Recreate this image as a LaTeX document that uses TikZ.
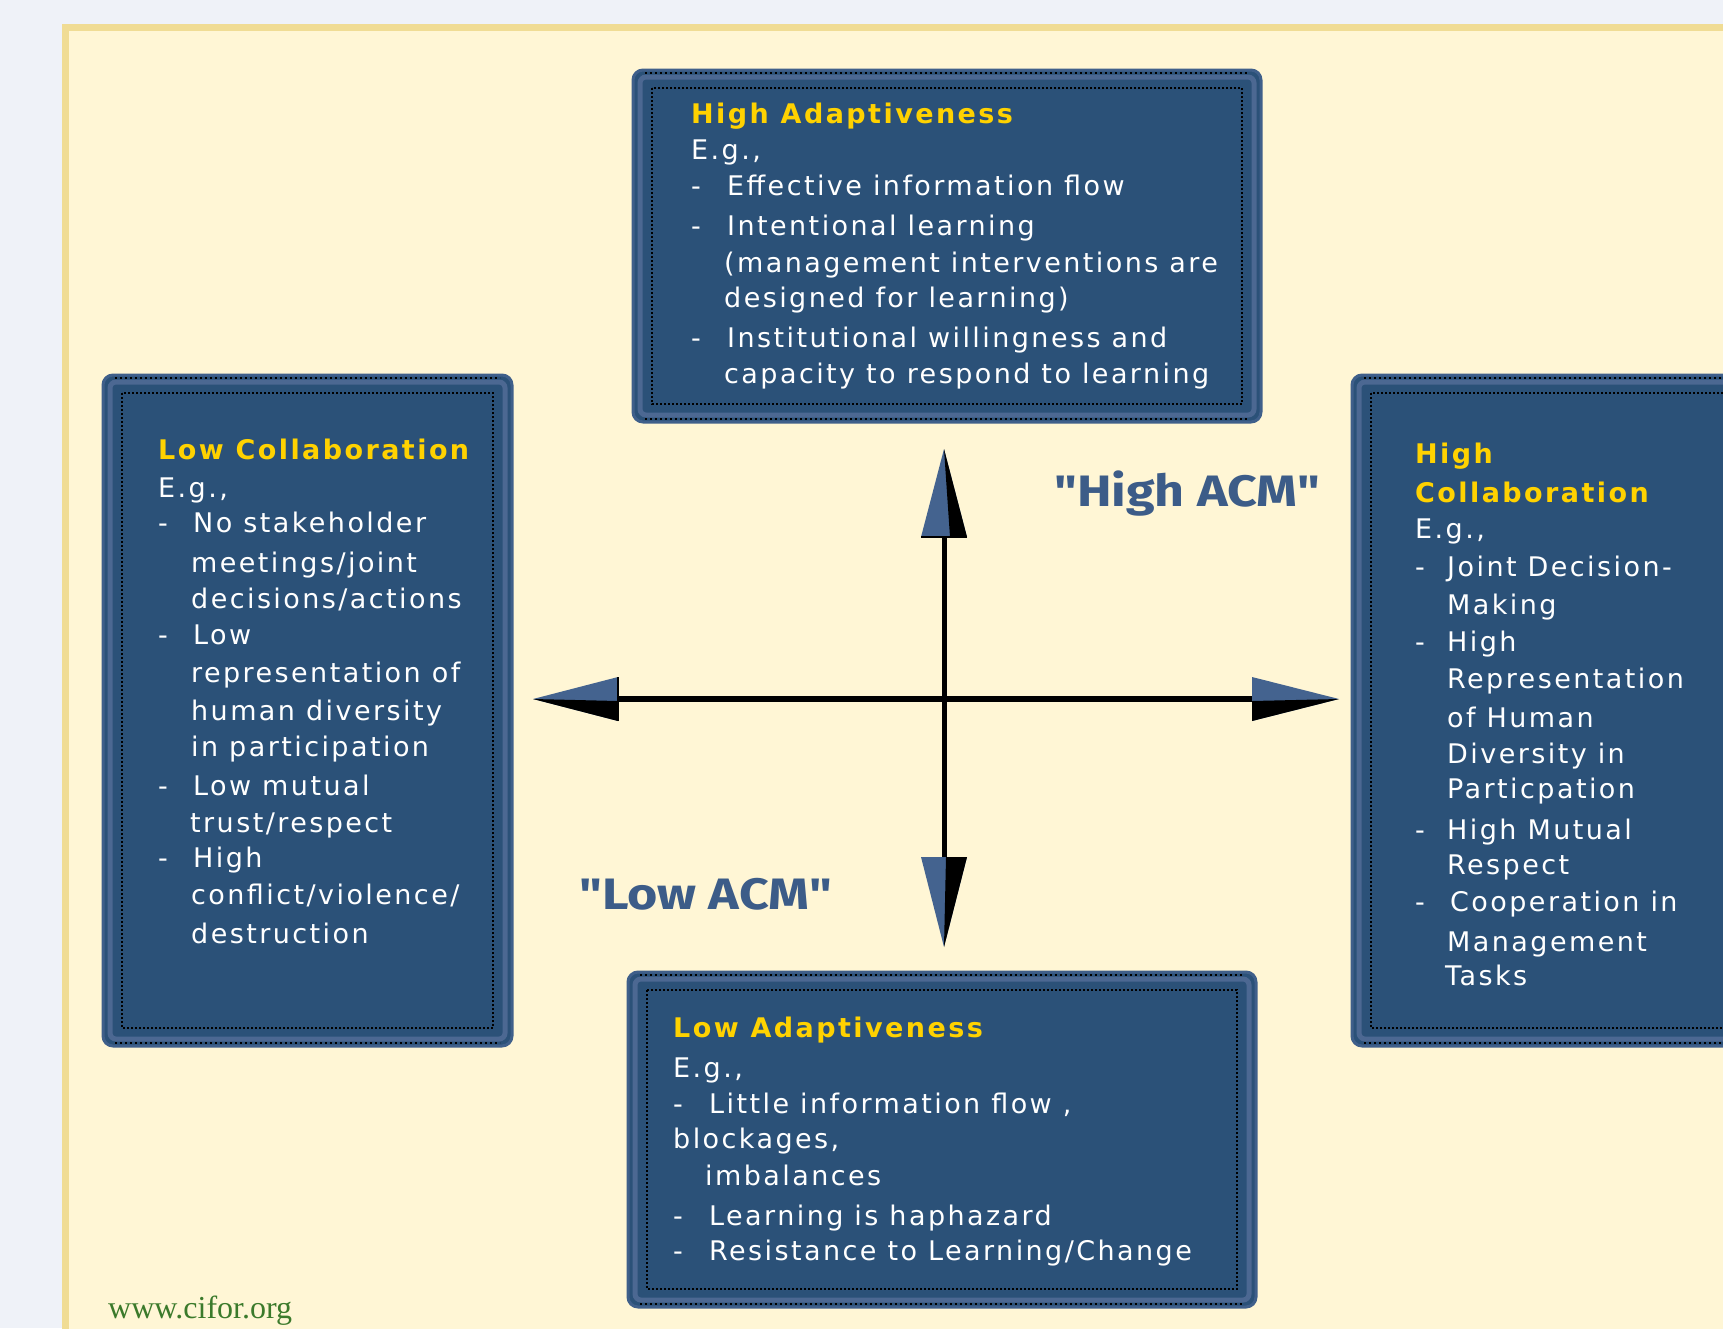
\documentclass[tikz,border=0pt]{standalone}
\usepackage{fontspec}
\usetikzlibrary{calc}
\newfontfamily\pixfont[LetterSpace=9]{DejaVu Sans}
\newfontfamily\acmfont{Fira Sans}
\newfontfamily\cifont{Liberation Serif}
\newcommand\dsh[1][36pt]{\makebox[#1][l]{-}}
\definecolor{pagebg}{HTML}{EFF2F8}
\definecolor{panel}{HTML}{FFF6D5}
\definecolor{panelrim}{HTML}{F0DC94}
\definecolor{boxblue}{HTML}{2B5178}
\definecolor{boxrim}{HTML}{3F5F8A}
\definecolor{boxlight}{HTML}{4C6892}
\definecolor{ttlyellow}{HTML}{FFD200}
\definecolor{acmblue}{HTML}{3C5C88}
\definecolor{headblue}{HTML}{44638F}
\definecolor{cifgreen}{HTML}{3B7A2B}
\begin{document}
\begin{tikzpicture}[x=1pt,y=-1pt,
  frame/.style={draw=boxrim, line width=3pt, fill=boxblue, rounded corners=10pt, inner sep=0pt, outer sep=0pt},
  body/.style={anchor=base west, inner sep=0pt, text=white, font=\pixfont\fontsize{27}{30}\selectfont},
  ttl/.style={body, text=ttlyellow, font=\pixfont\bfseries\fontsize{27}{30}\selectfont},
  acm/.style={text=acmblue, font=\acmfont\bfseries\fontsize{44}{50}\selectfont, inner sep=0pt, anchor=base west},
  axisline/.style={line width=5pt, black},
]
\useasboundingbox (0,0) rectangle (1723,1328);
\clip (0,0) rectangle (1723,1328);
\fill[pagebg] (0,0) rectangle (1723,1328);
\fill[panel] (62,24) rectangle (1740,1340);
\draw[panelrim, line width=7pt] (65.5,1340) -- (65.5,27.5) -- (1740,27.5);

% boxes
\node[frame, minimum width=628pt, minimum height=352pt] (hiAd) at (947,246) {};
\node[frame, minimum width=409pt, minimum height=671pt] (loCol) at (307.5,710.5) {};
\node[frame, minimum width=409pt, minimum height=671pt] (hiCol) at (1556.5,710.5) {};
\node[frame, minimum width=628pt, minimum height=335pt] (loAd) at (942,1139.5) {};
\foreach \n in {hiAd,loCol,hiCol,loAd}{
  \draw[boxlight, line width=5pt, rounded corners=6pt] ($(\n.north west)+(7,7)$) rectangle ($(\n.south east)+(-7,-7)$);
  \draw[black, line width=2pt, dash pattern=on 2pt off 2pt] ($(\n.north west)+(19,18)$) rectangle ($(\n.south east)+(-19,-18)$);
  \draw[black, line width=2pt, dash pattern=on 2pt off 3pt] ($(\n.north west)+(12,3)$) -- ($(\n.north east)+(-12,3)$);
  \draw[black, line width=2pt, dash pattern=on 2pt off 3pt] ($(\n.south west)+(12,-3)$) -- ($(\n.south east)+(-12,-3)$);
}

% cross
\coordinate (c) at (944,699);
\coordinate (tipU) at (944,449);
\coordinate (tipD) at (944,947);
\coordinate (tipL) at (533,699);
\coordinate (tipR) at (1339,699);
\draw[axisline] (c) -- ($(tipU)+(0,80)$);
\draw[axisline] (c) -- ($(tipD)+(0,-80)$);
\draw[axisline, line width=6pt] (c) -- ($(tipL)+(80,0)$);
\draw[axisline, line width=6pt] (c) -- ($(tipR)+(-80,0)$);
% heads
\fill[headblue] (tipU) -- ($(tipU)+(-23,88)$) -- ($(tipU)+(23,88)$) -- cycle;
\fill[black] (tipU) -- ($(tipU)+(23,88)$) -- ($(tipU)+(6,88)$) -- cycle;
\draw[black, line width=2pt] ($(tipU)+(-23,88)$) -- ($(tipU)+(23,88)$);
\fill[headblue] (tipD) -- ($(tipD)+(-23,-90)$) -- ($(tipD)+(23,-90)$) -- cycle;
\fill[black] (tipD) -- ($(tipD)+(23,-90)$) -- ($(tipD)+(2,-90)$) -- cycle;
\fill[headblue] (tipL) -- ($(tipL)+(85,-22)$) -- ($(tipL)+(85,22)$) -- cycle;
\fill[black] (tipL) -- ($(tipL)+(85,22)$) -- ($(tipL)+(85,2)$) -- cycle;
\draw[black, line width=2pt] ($(tipL)+(85,-22)$) -- ($(tipL)+(85,22)$);
\fill[headblue] (tipR) -- ($(tipR)+(-87,-22)$) -- ($(tipR)+(-87,22)$) -- cycle;
\fill[black] (tipR) -- ($(tipR)+(-87,22)$) -- ($(tipR)+(-87,2)$) -- cycle;

% ACM labels
\node[acm] (hiACM) at (1054,506) {\scalebox{1.18}[1]{"High ACM"}};
\node[acm] (loACM) at (579,909) {\scalebox{1.18}[1]{"Low ACM"}};

% top box text
\node[ttl] (hiAdT) at (691,123) {High Adaptiveness};
\node[body] (hiAd1) at (691,159) {E.g.,};
\node[body] (hiAd2) at (691,195) {\dsh Effective information flow};
\node[body] (hiAd3) at (691,235) {\dsh Intentional learning};
\node[body] (hiAd4) at (724,272) {(management interventions are};
\node[body] (hiAd5) at (724,307) {designed for learning)};
\node[body] (hiAd6) at (691,347) {\dsh Institutional willingness and};
\node[body] (hiAd7) at (724,383) {capacity to respond to learning};

% left box text
\node[ttl] (loColT) at (158,459) {Low Collaboration};
\node[body] (loCol1) at (158,497) {E.g.,};
\node[body] (loCol2) at (158,532) {\dsh[35pt]No stakeholder};
\node[body] (loCol3) at (191,572) {meetings/joint};
\node[body] (loCol4) at (191,608) {decisions/actions};
\node[body] (loCol5) at (158,644) {\dsh[35pt]Low};
\node[body] (loCol6) at (191,682) {representation of};
\node[body] (loCol7) at (191,720) {human diversity};
\node[body] (loCol8) at (191,756) {in participation};
\node[body] (loCol9) at (158,795) {\dsh[35pt]Low mutual};
\node[body] (loCol10) at (190,832) {trust/respect};
\node[body] (loCol11) at (158,867) {\dsh[35pt]High};
\node[body] (loCol12) at (191,904) {conflict/violence/};
\node[body] (loCol13) at (191,943) {destruction};

% right box text
\node[ttl] (hiColT) at (1415,463) {High};
\node[ttl] (hiColU) at (1415,502) {Collaboration};
\node[body] (hiCol1) at (1415,538) {E.g.,};
\node[body] (hiCol2) at (1415,576) {\dsh[32pt]Joint Decision-};
\node[body] (hiCol3) at (1447,614) {Making};
\node[body] (hiCol4) at (1415,651) {\dsh[32pt]High};
\node[body] (hiCol5) at (1447,688) {Representation};
\node[body] (hiCol6) at (1447,727) {of Human};
\node[body] (hiCol7) at (1447,763) {Diversity in};
\node[body] (hiCol8) at (1447,798) {Particpation};
\node[body] (hiCol9) at (1415,839) {\dsh[32pt]High Mutual};
\node[body] (hiCol10) at (1447,874) {Respect};
\node[body] (hiCol11) at (1415,911) {\dsh[35pt]Cooperation in};
\node[body] (hiCol12) at (1447,951) {Management};
\node[body] (hiCol13) at (1445,985) {Tasks};

% bottom box text
\node[ttl] (loAdT) at (673,1037) {Low Adaptiveness};
\node[body] (loAd1) at (673,1077) {E.g.,};
\node[body] (loAd2) at (673,1113) {\dsh Little information flow ,};
\node[body] (loAd3) at (673,1148) {blockages,};
\node[body] (loAd4) at (705,1185) {imbalances};
\node[body] (loAd5) at (673,1225) {\dsh Learning is haphazard};
\node[body] (loAd6) at (673,1260) {\dsh Resistance to Learning/Change};

% footer
\node[anchor=base west, inner sep=0pt, text=cifgreen, font=\cifont\fontsize{32}{36}\selectfont] (cifor) at (108,1318) {www.cifor.org};
\end{tikzpicture}
\end{document}
